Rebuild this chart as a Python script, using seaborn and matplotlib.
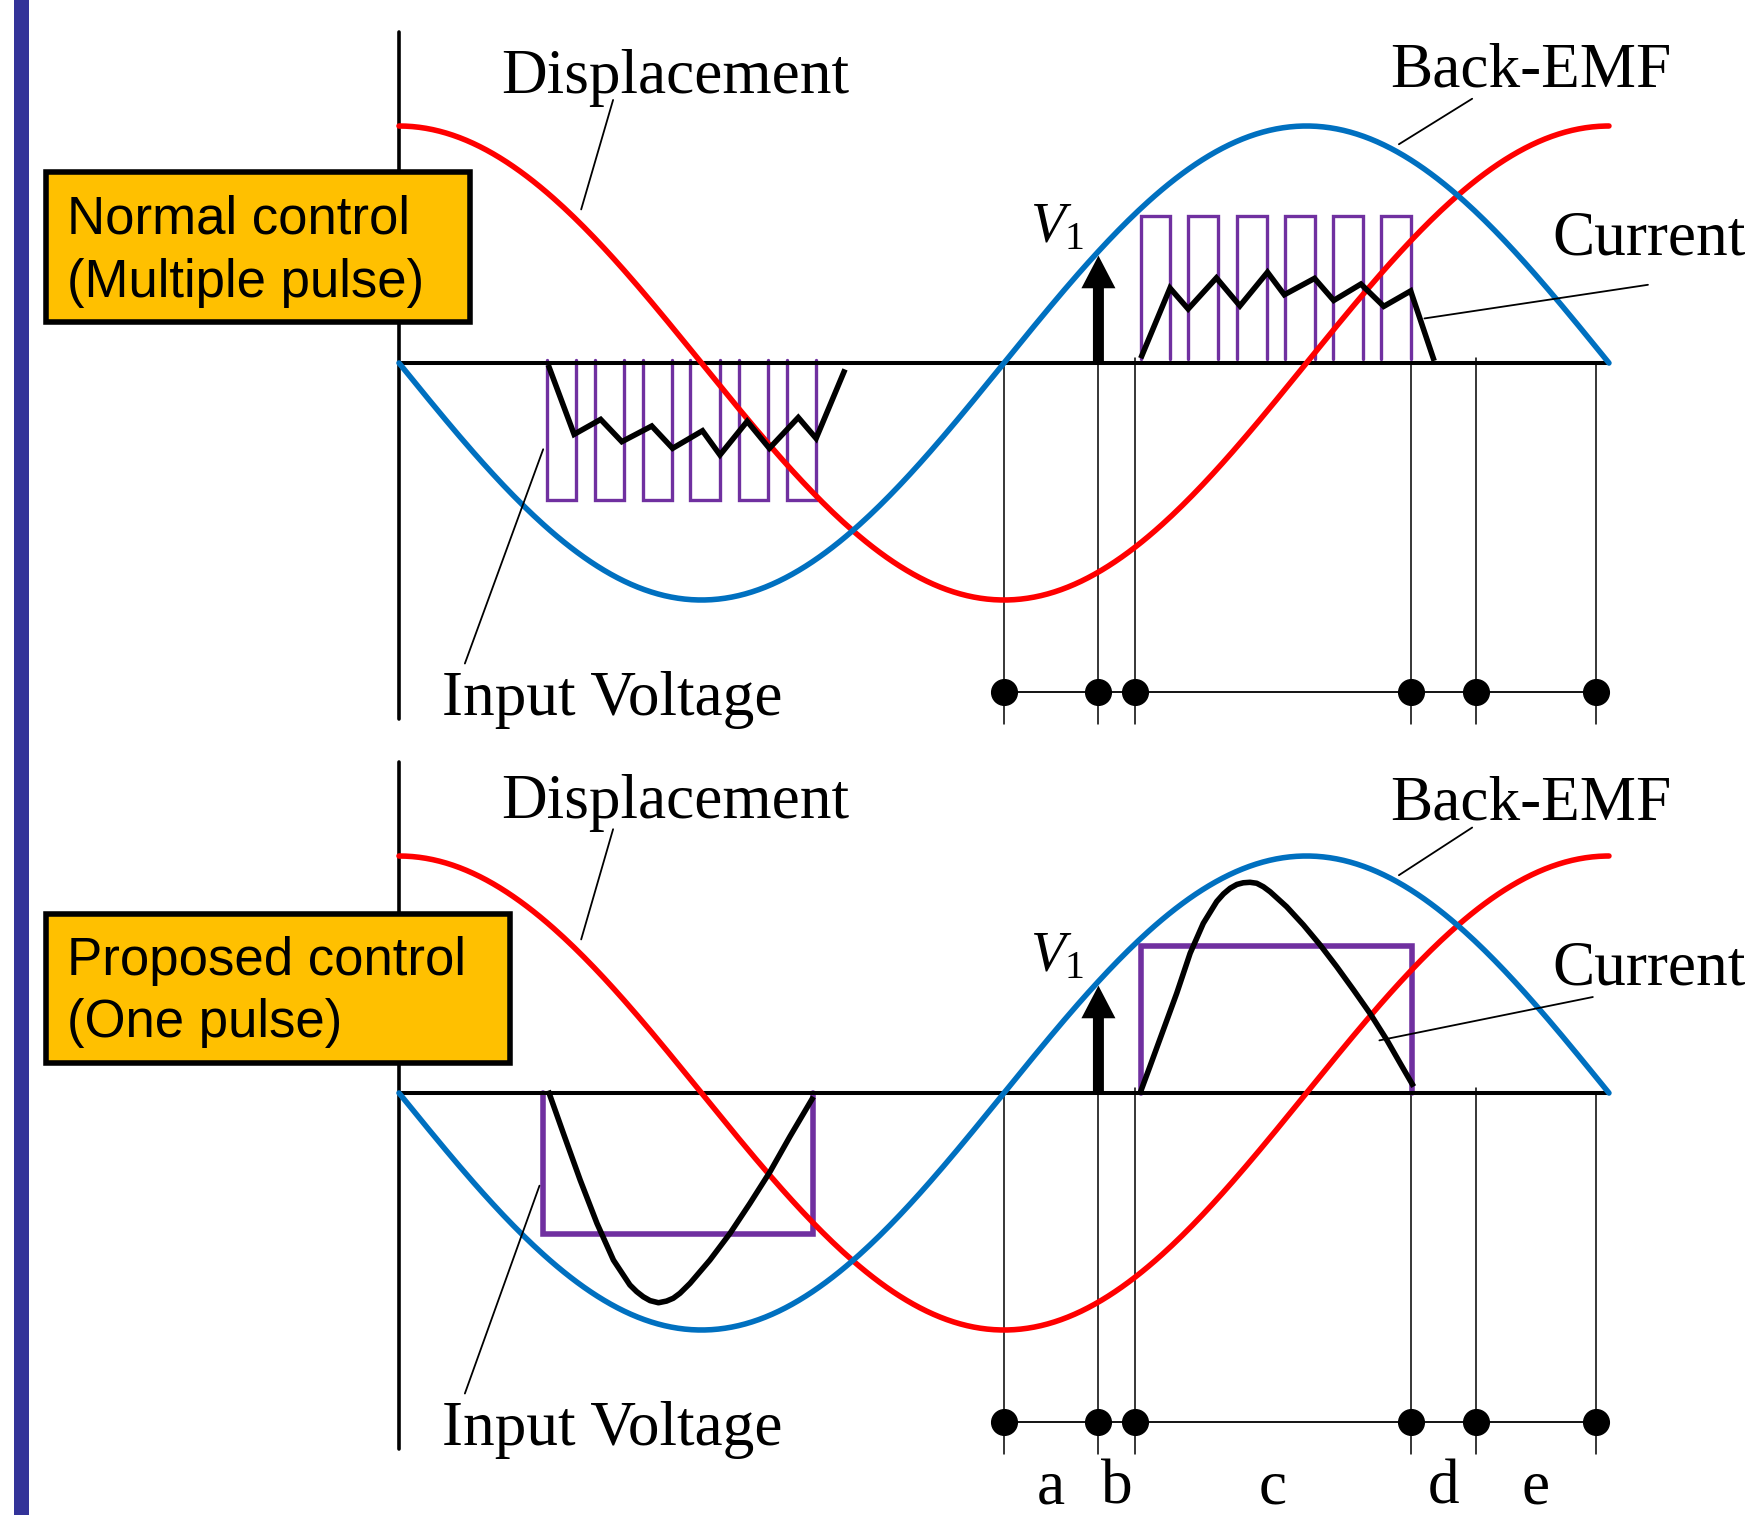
import numpy as np
import matplotlib
matplotlib.use("Agg")
import matplotlib.pyplot as plt
import seaborn as sns
import pandas as pd
from matplotlib.patches import Rectangle, FancyArrowPatch

# ---------------- data ----------------
phase_deg = np.arange(0, 361, 1)
DISP_AMP = 1.0
EMF_AMP = 1.0

interval_bounds = [180, 208, 219, 301, 320.5, 356]
interval_line_tops = [0.0, 0.0, 0.02, 0.0, 0.02, 0.0]
interval_names = ["a", "b", "c", "d", "e"]
v1_phase = 208.1

# Normal control (multiple pulse)
neg_pulse_starts = [43.9, 58.2, 72.6, 86.7, 101.1, 115.3]
neg_pulse_ends = [52.6, 66.9, 81.3, 95.4, 109.8, 124.0]
pos_pulse_starts = [220.7, 234.8, 249.3, 263.7, 277.9, 292.3]
pos_pulse_ends = [229.4, 243.8, 258.2, 272.4, 286.8, 301.0]
neg_pulse_level = -0.58
pos_pulse_level = 0.622

normal_neg_cur_phase = [44.4, 52.1, 60.0, 66.3, 75.2, 81.4, 90.3, 95.5, 103.6, 110.2, 118.8, 124.1, 132.7]
normal_neg_cur = [-0.008, -0.301, -0.238, -0.332, -0.266, -0.360, -0.286, -0.388, -0.246, -0.360, -0.230, -0.318, -0.027]
normal_pos_cur_phase = [220.7, 229.4, 234.8, 243.2, 250.2, 258.4, 263.4, 272.4, 278.1, 286.2, 293.0, 301.0, 308.0]
normal_pos_cur = [0.02, 0.316, 0.228, 0.359, 0.241, 0.383, 0.288, 0.357, 0.264, 0.333, 0.239, 0.304, 0.009]

# Proposed control (one pulse)
one_neg_pulse = (42.8, 123.3)
one_pos_pulse = (220.7, 301.4)
one_neg_level = -0.595
one_pos_level = 0.620

one_neg_cur_phase = [44.4, 48.9, 53.9, 58.9, 63.8, 68.7, 70.7, 72.7, 74.7, 77.2, 79.6, 81.6, 83.6,
                     86.6, 92.5, 98.5, 104.4, 110.4, 116.3, 123.3]
one_neg_cur = [0.010, -0.170, -0.367, -0.550, -0.705, -0.810, -0.838, -0.860, -0.876, -0.885, -0.878,
               -0.866, -0.845, -0.803, -0.705, -0.592, -0.466, -0.332, -0.184, -0.016]
one_pos_cur_phase = [220.5, 223.4, 227.4, 231.4, 235.4, 239.3, 243.3, 245.3, 247.3, 249.3, 251.2, 253.2,
                     255.2, 257.2, 259.2, 264.1, 269.1, 274.1, 279.0, 284.0, 288.9, 293.9, 297.9, 301.9]
one_pos_cur = [0.0, 0.111, 0.266, 0.421, 0.590, 0.716, 0.808, 0.840, 0.864, 0.880, 0.887, 0.889,
               0.885, 0.870, 0.849, 0.786, 0.709, 0.624, 0.533, 0.435, 0.336, 0.224, 0.125, 0.027]

panel_titles = ["Normal control\n(Multiple pulse)", "Proposed control\n(One pulse)"]

# ---------------- style ----------------
sns.set_theme(style="white")
plt.rcParams["font.family"] = ["Liberation Serif", "DejaVu Serif"]
plt.rcParams["text.color"] = "black"
plt.rcParams["mathtext.fontset"] = "custom"
plt.rcParams["mathtext.it"] = "Liberation Serif:italic"
plt.rcParams["mathtext.rm"] = "Liberation Serif"

RED = "#FF0000"
BLUE = "#0070C0"
PURPLE = "#7030A0"
ORANGE = "#FFC000"
W, H = 1752, 1515
X0, PX_PER_DEG, PX_PER_UNIT = 399, 3.361, 237.0

fig = plt.figure(figsize=(W / 100, H / 100), dpi=100)
fig.patch.set_facecolor("white")

xlim = (-X0 / PX_PER_DEG, (W - X0) / PX_PER_DEG)
ax_top = fig.add_axes([0, 785 / H, 1, 730 / H])
ax_top.set_ylim(-(730 - 363) / PX_PER_UNIT, 363 / PX_PER_UNIT)
ax_bot = fig.add_axes([0, 0, 1, 785 / H])
ax_bot.set_ylim(-(1515 - 1093) / PX_PER_UNIT, (1093 - 730) / PX_PER_UNIT)

curves = pd.DataFrame({
    "phase": phase_deg,
    "Displacement": DISP_AMP * np.cos(np.deg2rad(phase_deg)),
    "Back-EMF": -EMF_AMP * np.sin(np.deg2rad(phase_deg)),
})

SERIF_FS = 45.5
LEAD_LW = 1.3
CURVE_LW = 4.0
CUR_LW = 4.0


def pulse_train(starts, ends, level, rest):
    xs, ys = [], []
    for s, e in zip(starts, ends):
        xs += [s, s, e, e, np.nan]
        ys += [rest, level, level, rest, np.nan]
    return xs, ys


def draw_panel(ax, layout):
    ax.set_xlim(*xlim)
    ax.set_axis_off()
    # axes
    ax.plot([0, 0], [1.395, -1.50], color="black", lw=2.6, zorder=2.5)
    ax.plot([0, 360], [0, 0], color="black", lw=2.9, zorder=2.5)
    # interval lines and dots
    for xb, top in zip(interval_bounds, interval_line_tops):
        ax.plot([xb, xb], [top, -1.523], color="black", lw=1.1, zorder=1)
    ax.plot(interval_bounds, [-1.387] * len(interval_bounds), color="black",
            lw=1.3, marker="o", ms=18.5, zorder=2)
    # purple input voltage
    for (px, py) in layout["pulses"]:
        ax.plot(px, py, color=PURPLE, lw=layout["pulse_lw"], zorder=2,
                solid_joinstyle="miter")
    # sinusoids
    sns.lineplot(data=curves, x="phase", y="Displacement", ax=ax, color=RED,
                 lw=CURVE_LW, zorder=3, estimator=None, sort=False)
    sns.lineplot(data=curves, x="phase", y="Back-EMF", ax=ax, color=BLUE,
                 lw=CURVE_LW, zorder=3, estimator=None, sort=False)
    ax.set_xlabel("")
    ax.set_ylabel("")
    # currents
    for (cx, cy) in layout["currents"]:
        ax.plot(cx, cy, color="black", lw=CUR_LW, zorder=4,
                solid_joinstyle=layout["join"], solid_capstyle="butt")
    # V1 arrow
    tip = -EMF_AMP * np.sin(np.deg2rad(v1_phase)) - 0.018
    arr = FancyArrowPatch((v1_phase, 0.0), (v1_phase, tip),
                          arrowstyle="simple,head_length=23.5,head_width=24.5,tail_width=7.9",
                          mutation_scale=1, color="black", lw=0,
                          shrinkA=0, shrinkB=0, zorder=5)
    ax.add_patch(arr)
    ax.text(187.8, layout["v1_y"], r"$V_1$", fontsize=41, ha="left", va="baseline")
    # labels + leader lines
    for txt, (tx, ty), (l0, l1) in layout["labels"]:
        ax.text(tx, ty, txt, fontsize=SERIF_FS, ha="left", va="baseline",
                clip_on=False)
        ax.plot([l0[0], l1[0]], [l0[1], l1[1]], color="black", lw=LEAD_LW,
                zorder=4)


top_layout = {
    "pulses": [pulse_train(neg_pulse_starts, neg_pulse_ends, neg_pulse_level, 0.013),
               pulse_train(pos_pulse_starts, pos_pulse_ends, pos_pulse_level, 0.016)],
    "pulse_lw": 2.4,
    "join": "miter",
    "currents": [(normal_neg_cur_phase, normal_neg_cur),
                 (normal_pos_cur_phase, normal_pos_cur)],
    "v1_y": 0.51,
    "labels": [
        ("Displacement", (30.3, 1.139), ((63.7, 1.110), (54.2, 0.648))),
        ("Input Voltage", (12.9, -1.485), ((19.6, -1.268), (42.9, -0.364))),
        ("Back-EMF", (294.9, 1.166), ((319.3, 1.115), (297.5, 0.923))),
        ("Current", (343.1, 0.456), ((371.6, 0.330), (305.1, 0.188))),
    ],
}
bot_layout = {
    "pulses": [([one_neg_pulse[0], one_neg_pulse[0], one_neg_pulse[1], one_neg_pulse[1]],
                [0.0, one_neg_level, one_neg_level, 0.0]),
               ([one_pos_pulse[0], one_pos_pulse[0], one_pos_pulse[1], one_pos_pulse[1]],
                [0.0, one_pos_level, one_pos_level, 0.0])],
    "pulse_lw": 4.0,
    "join": "round",
    "currents": [(one_neg_cur_phase, one_neg_cur),
                 (one_pos_cur_phase, one_pos_cur)],
    "v1_y": 0.513,
    "labels": [
        ("Displacement", (30.3, 1.162), ((63.7, 1.113), (54.2, 0.648))),
        ("Input Voltage", (12.9, -1.485), ((19.6, -1.268), (41.8, -0.391))),
        ("Back-EMF", (294.9, 1.152), ((319.3, 1.120), (297.5, 0.919))),
        ("Current", (343.1, 0.458), ((355.2, 0.405), (291.7, 0.222))),
    ],
}

draw_panel(ax_top, top_layout)
draw_panel(ax_bot, bot_layout)

# interval letters under bottom panel
for i, name in enumerate(interval_names):
    xc = (interval_bounds[i] + interval_bounds[i + 1]) / 2
    ax_bot.text(xc, -1.73, name, fontsize=SERIF_FS, ha="center", va="baseline")

# left decorative bar
fig.add_artist(Rectangle((14 / W, 0), 15 / W, 1, transform=fig.transFigure,
                         facecolor="#333399", edgecolor="none", zorder=0))

# orange title boxes
boxes = [((46, 172, 424, 150), (67, 234, 297)),
         ((46, 913.5, 464, 149.5), (67, 975, 1036.5))]
for title, ((bx, by, bw, bh), (tx, b1, b2)) in zip(panel_titles, boxes):
    fig.add_artist(Rectangle((bx / W, 1 - (by + bh) / H), bw / W, bh / H,
                             transform=fig.transFigure, facecolor=ORANGE,
                             edgecolor="black", lw=4, zorder=6))
    l1, l2 = title.split("\n")
    fig.text(tx / W, 1 - b1 / H, l1, fontsize=38, family=["Liberation Sans", "DejaVu Sans"],
             color="black", ha="left", va="baseline", zorder=7)
    fig.text(tx / W, 1 - b2 / H, l2, fontsize=38, family=["Liberation Sans", "DejaVu Sans"],
             color="black", ha="left", va="baseline", zorder=7)

fig.savefig("out.png", dpi=100, facecolor="white")
